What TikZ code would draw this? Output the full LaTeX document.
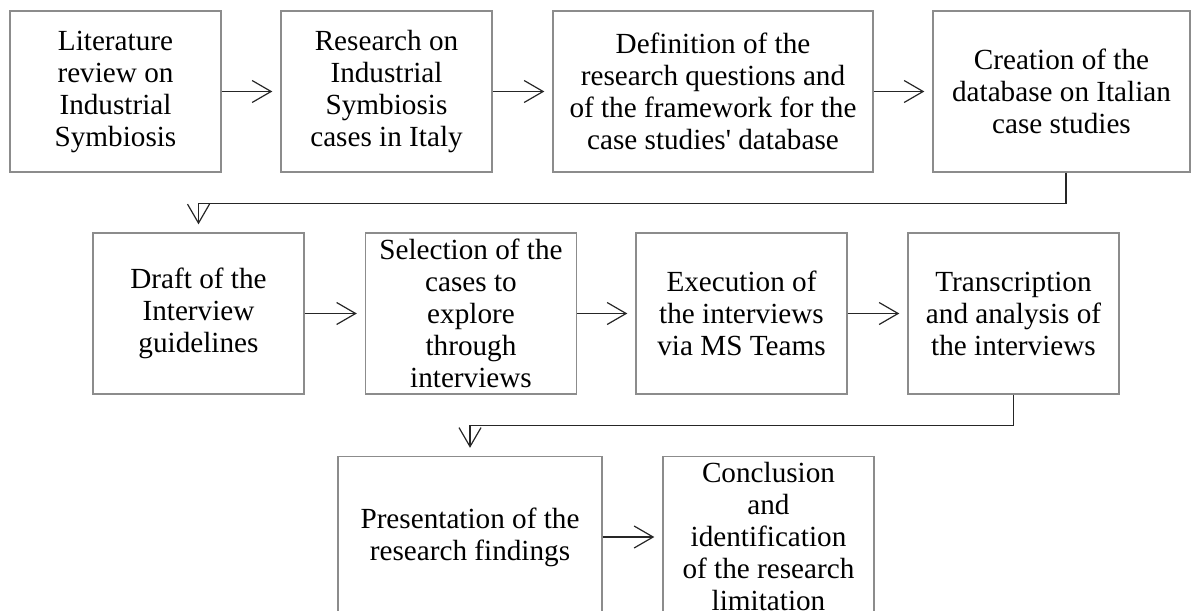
\documentclass[tikz,border=0pt]{standalone}
\usepackage{fontspec}
\setmainfont{Liberation Serif}
\usetikzlibrary{arrows.meta}

\tikzset{
  stepbox/.style={draw=black!45, line width=0.7pt, align=center, inner sep=0pt,
    minimum width=105.5pt, minimum height=80.5pt,
    font=\fontsize{14.6}{16}\selectfont},
  widebox/.style={stepbox, minimum width=#1},
  link/.style={draw=black!85, line width=0.6pt,
    -{Straight Barb[length=9.5pt,width=11pt]}, shorten >=4pt}
}

\begin{document}
\begin{tikzpicture}
\useasboundingbox (0,0) rectangle (596pt,-305pt);

% first row
\node[stepbox] (b1) at (57.75pt,-45.75pt) {Literature\\review on\\Industrial\\Symbiosis};
\node[stepbox] (b2) at (193.25pt,-45.75pt) {Research on\\Industrial\\Symbiosis\\cases in Italy};
\node[widebox=160pt] (b3) at (356.5pt,-45.75pt) {Definition of the\\research questions and\\of the framework for the\\case studies\textquotesingle{} database};
\node[widebox=128.5pt] (b4) at (530.75pt,-45.75pt) {Creation of the\\database on Italian\\case studies};

% second row
\node[stepbox] (b5) at (99.25pt,-156.75pt) {Draft of the\\Interview\\guidelines};
\node[stepbox] (b6) at (235.5pt,-156.75pt) {Selection of the\\cases to\\explore\\through\\interviews};
\node[stepbox] (b7) at (370.75pt,-156.75pt) {Execution of\\the interviews\\via MS Teams};
\node[stepbox] (b8) at (506.75pt,-156.75pt) {Transcription\\and analysis of\\the interviews};

% third row
\node[widebox=132pt] (b9) at (235pt,-268.5pt) {Presentation of the\\research findings};
\node[stepbox] (b10) at (384.25pt,-268.5pt) {Conclusion\\and\\identification\\of the research\\limitation};

% horizontal links
\draw[link] (b1) -- (b2);
\draw[link] (b2) -- (b3);
\draw[link] (b3) -- (b4);
\draw[link] (b5) -- (b6);
\draw[link] (b6) -- (b7);
\draw[link] (b7) -- (b8);
\draw[link] (b9) -- (b10);

% row changes
\draw[link] ([xshift=2.25pt]b4.south) -- ++(0,-15.5pt) -| (b5.north);
\draw[link] (b8.south) -- ++(0,-15.5pt) -| (b9.north);
\end{tikzpicture}
\end{document}
